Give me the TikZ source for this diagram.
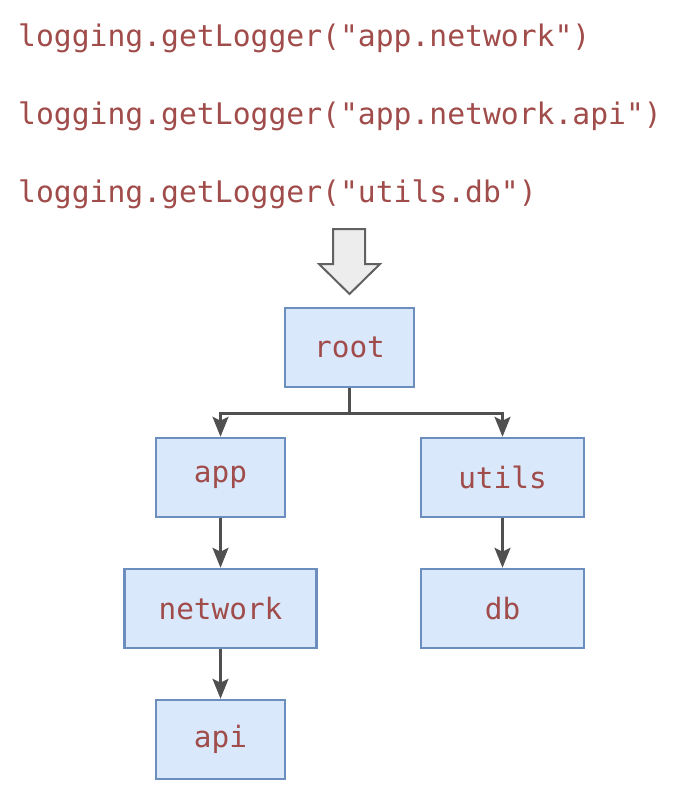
\documentclass[tikz,border=0pt]{standalone}
\usepackage{fontspec}
\setmonofont{DejaVu Sans Mono}
\usetikzlibrary{arrows.meta}

\definecolor{codered}{RGB}{160,76,74}
\definecolor{boxfill}{RGB}{218,232,252}
\definecolor{boxline}{RGB}{108,142,191}
\definecolor{lineclr}{RGB}{80,80,80}

\tikzset{
  codeline/.style={anchor=base west,inner sep=0pt,text=codered,
    font=\ttfamily\fontsize{29.7}{36}\selectfont},
  logger/.style={draw=boxline,fill=boxfill,line width=2.5pt,text=codered,
    minimum height=79pt,inner sep=0pt,
    font=\ttfamily\fontsize{29.4}{36}\selectfont},
  conn/.style={draw=lineclr,line width=2.6pt,
    -{Stealth[length=20pt 0 0,width=16pt 0 0,inset=4pt 0]}},
}

\begin{document}
\begin{tikzpicture}[x=1pt,y=-1pt]
  \useasboundingbox (0,0) rectangle (684,792);
  % calls
  \node[codeline] (l1) at (18,47) {logging.getLogger("app.network")};
  \node[codeline] (l2) at (18,124) {logging.getLogger("app.network.api")};
  \node[codeline] (l3) at (18,202) {logging.getLogger("utils.db")};
  % block arrow
  \draw[draw=black!62,fill=black!7,line width=2pt,line join=miter]
    (333,229) -- (365,229) -- (365,264) -- (380,264) -- (349.5,294)
    -- (319,264) -- (333,264) -- cycle;
  % hierarchy
  \node[logger,minimum width=129pt] (root) at (349.5,347.5) {root};
  \node[logger,minimum width=129pt] (app) at (220.5,477.5) {app};
  \node[logger,minimum width=163pt] (utils) at (502.5,477.5) {utils};
  \node[logger,minimum width=192pt] (network) at (220.5,608.5) {network};
  \node[logger,minimum width=163pt] (db) at (502.5,608.5) {db};
  \node[logger,minimum width=129pt] (api) at (220.5,739.5) {api};
  \draw[conn] (root.south) -- ++(0,25) -| (app.north);
  \draw[conn] (root.south) -- ++(0,25) -| (utils.north);
  \draw[conn] (app) -- (network);
  \draw[conn] (utils) -- (db);
  \draw[conn] (network) -- (api);
\end{tikzpicture}
\end{document}
